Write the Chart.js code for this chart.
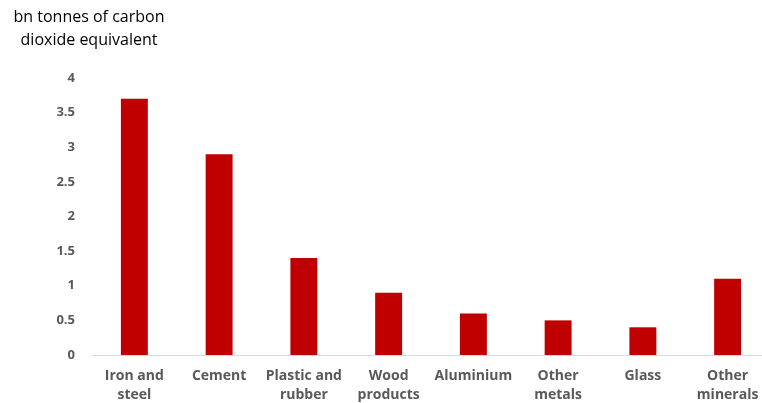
<!DOCTYPE html>
<html>
<head>
<meta charset="utf-8">
<script src="https://cdn.jsdelivr.net/npm/chart.js@4"></script>
<style>
  html, body { margin: 0; padding: 0; background: #fff; overflow: hidden; }
  #wrap { position: relative; width: 770px; height: 403px; }
  #title { position: absolute; left: 0; top: 5px; width: 178px; text-align: center;
           font-family: "Open Sans", sans-serif; font-size: 16px; line-height: 22.5px; color: #000; }
</style>
</head>
<body>
<div id="wrap">
  <canvas id="c" width="770" height="403"></canvas>
  <div id="title">bn tonnes of carbon<br>dioxide equivalent</div>
</div>
<script>
const categories = [["Iron and", "steel"], "Cement", ["Plastic and", "rubber"], ["Wood", "products"], "Aluminium", ["Other", "metals"], "Glass", ["Other", "minerals"]];
const emissions = [3.7, 2.9, 1.4, 0.9, 0.6, 0.5, 0.4, 1.1];
const yMin = 0, yMax = 4, yStep = 0.5;

new Chart(document.getElementById('c'), {
  type: 'bar',
  data: {
    labels: categories,
    datasets: [{
      data: emissions,
      backgroundColor: '#C00000',
      borderWidth: 0,
      barPercentage: 0.318,
      categoryPercentage: 1.0
    }]
  },
  options: {
    responsive: false,
    animation: false,
    devicePixelRatio: 1,
    layout: { padding: { top: 78, left: 0, right: 0, bottom: 0 } },
    plugins: { legend: { display: false }, tooltip: { enabled: false }, title: { display: false } },
    scales: {
      x: {
        grid: { display: false, drawTicks: false },
        border: { display: true, color: '#D9D9D9', width: 1 },
        ticks: {
          color: '#595959',
          font: { family: '"Open Sans", sans-serif', size: 14, weight: 'bold', lineHeight: 1.36 },
          padding: 11,
          maxRotation: 0,
          autoSkip: false
        },
        afterFit: (s) => { s.height = 48; }
      },
      y: {
        min: yMin, max: yMax,
        grid: { display: false, drawTicks: false },
        border: { display: false },
        ticks: {
          stepSize: yStep,
          color: '#595959',
          font: { family: '"Open Sans", sans-serif', size: 13, weight: 'bold' },
          padding: 17,
          callback: (v) => String(v)
        },
        afterFit: (s) => { s.width = 92; }
      }
    }
  }
});
</script>
</body>
</html>
